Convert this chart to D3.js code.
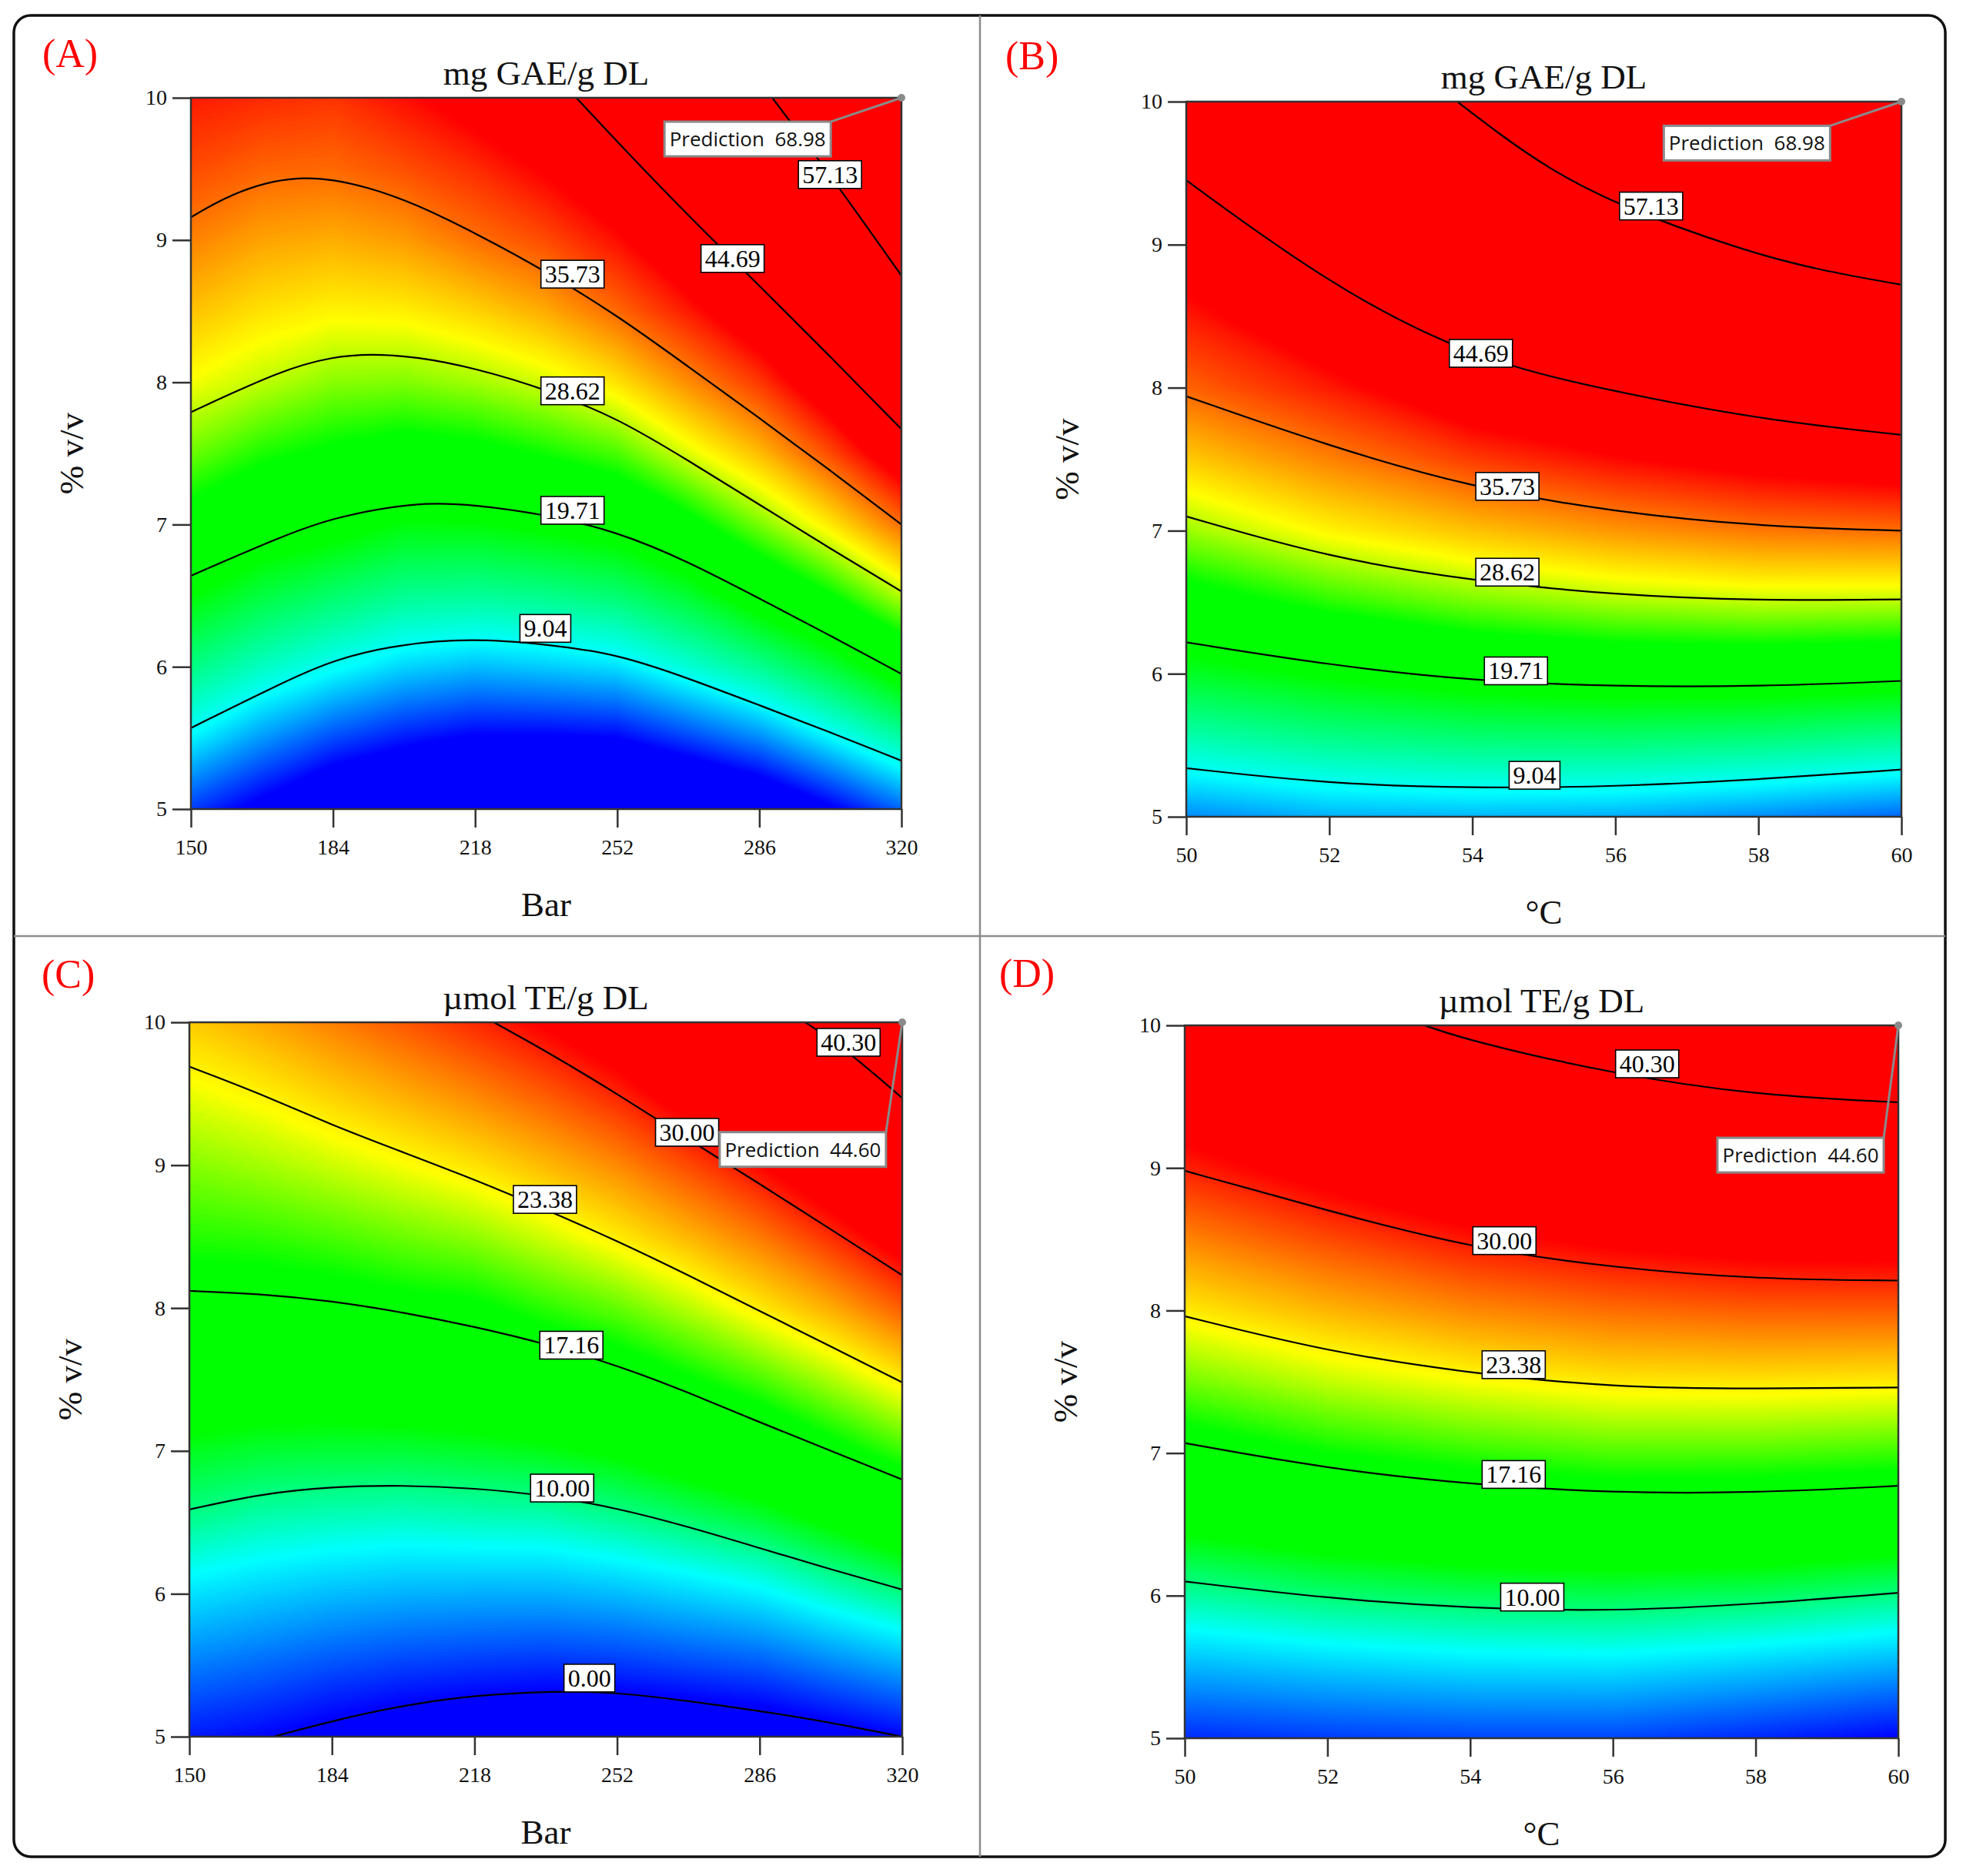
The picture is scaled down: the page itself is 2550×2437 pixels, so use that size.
<!DOCTYPE html>
<html>
<head>
<meta charset="utf-8">
<script src="https://cdn.jsdelivr.net/npm/d3@7"></script>
<style>
  body { margin: 0; background: #fff; }
  svg { display: block; }
  text { font-family: "Liberation Serif", "Times New Roman", serif; }
</style>
</head>
<body>
<svg id="fig" width="2550" height="2437"></svg>
<script>
// ---------- data ----------
const barTicks = [150, 184, 218, 252, 286, 320];
const tempTicks = [50, 52, 54, 56, 58, 60];
const vvTicks = [5, 6, 7, 8, 9, 10];
// grid columns and rows the response values were read at
const barCols = [150, 167, 184, 201, 218, 235, 252, 269, 286, 303, 320];
const tempCols = [50, 52, 54, 56, 58, 60];
const gridRows = [10, 9.5, 9, 8.5, 8, 7.5, 7, 6.5, 6, 5.5, 5];

const gaeBarGrid = [
  [39.0, 38.4, 38.0, 39.5, 41.4, 44.0, 47.0, 51.9, 57.1, 63.0, 69.0],
  [37.1, 36.1, 35.9, 36.9, 38.3, 40.3, 43.3, 47.6, 52.4, 57.6, 64.3],
  [34.9, 33.6, 33.2, 33.9, 35.6, 37.1, 39.5, 43.3, 47.6, 52.7, 59.6],
  [32.4, 31.1, 30.4, 30.6, 31.7, 33.3, 35.9, 39.0, 42.8, 47.8, 54.5],
  [29.8, 28.5, 27.2, 27.0, 27.8, 29.0, 31.1, 34.5, 37.8, 42.7, 48.6],
  [26.5, 24.6, 23.5, 22.7, 23.1, 24.3, 25.7, 29.2, 32.6, 37.1, 42.5],
  [22.6, 20.8, 19.7, 18.1, 18.2, 19.1, 20.2, 23.0, 26.8, 30.8, 35.7],
  [18.4, 16.0, 14.3, 12.8, 12.5, 13.1, 14.1, 16.6, 20.4, 23.8, 28.3],
  [13.4, 10.9, 8.9, 7.1, 6.3, 6.8, 7.5, 10.1, 12.8, 16.3, 20.5],
  [8.2, 5.1, 2.5, 0.8, -0.3, -0.3, 0.0, 2.2, 4.6, 8.3, 12.1],
  [2.0, -1.0, -4.0, -5.5, -7.0, -7.3, -7.5, -6.0, -4.0, -0.5, 3.4]
];
const gaeTempGrid = [
  [47.5, 53.0, 57.5, 62.5, 66.8, 69.0],
  [44.9, 49.8, 54.0, 58.8, 62.3, 64.3],
  [42.0, 46.5, 50.4, 54.5, 57.8, 59.6],
  [39.0, 42.9, 46.8, 49.7, 52.5, 54.4],
  [36.1, 39.0, 42.7, 45.0, 47.1, 48.6],
  [32.0, 34.9, 37.7, 39.7, 41.3, 42.4],
  [27.6, 30.4, 32.4, 34.1, 35.3, 35.7],
  [22.5, 24.9, 26.7, 27.9, 28.5, 28.3],
  [17.0, 18.9, 20.3, 21.0, 21.0, 20.5],
  [11.0, 12.5, 13.3, 13.5, 13.0, 12.0],
  [4.6, 5.9, 6.1, 5.8, 4.7, 3.4]
];
const teBarGrid = [
  [24.6, 25.7, 27.0, 28.3, 29.7, 31.3, 33.1, 35.8, 38.7, 41.5, 44.6],
  [22.6, 23.4, 24.5, 25.6, 26.8, 28.2, 29.9, 32.3, 34.8, 37.4, 40.5],
  [20.6, 21.2, 22.0, 22.9, 23.9, 25.2, 26.7, 28.7, 30.9, 33.5, 36.4],
  [18.7, 18.9, 19.4, 20.1, 20.8, 22.1, 23.6, 25.3, 27.2, 29.6, 32.3],
  [16.6, 16.6, 16.8, 17.3, 17.6, 18.8, 19.9, 21.6, 23.6, 25.6, 28.1],
  [14.3, 14.1, 14.1, 14.4, 14.6, 15.5, 16.3, 17.8, 19.4, 21.4, 23.6],
  [11.9, 11.5, 11.4, 11.4, 11.7, 12.1, 12.8, 14.0, 15.2, 17.2, 19.1],
  [9.5, 8.8, 8.5, 8.3, 8.5, 8.6, 9.3, 10.2, 11.2, 12.8, 14.5],
  [6.5, 5.9, 5.4, 5.1, 5.0, 5.0, 5.4, 6.1, 6.9, 8.4, 9.8],
  [3.6, 3.0, 2.3, 1.8, 1.5, 1.3, 1.5, 2.0, 2.5, 3.7, 4.9],
  [0.7, 0.1, -0.8, -1.5, -2.0, -2.4, -2.5, -2.3, -1.9, -1.0, 0.0]
];
const teTempGrid = [
  [36.0, 39.1, 41.1, 42.9, 44.2, 44.6],
  [33.0, 35.6, 37.5, 39.1, 40.2, 40.5],
  [30.0, 32.1, 34.0, 35.3, 36.2, 36.4],
  [26.8, 28.7, 30.4, 31.5, 32.2, 32.3],
  [23.6, 25.3, 26.7, 27.6, 28.1, 28.1],
  [20.2, 21.8, 22.9, 23.7, 23.8, 23.6],
  [16.6, 18.0, 18.9, 19.5, 19.5, 19.1],
  [13.0, 14.1, 14.9, 15.3, 15.1, 14.5],
  [9.2, 10.2, 10.7, 10.9, 10.6, 9.8],
  [5.2, 5.9, 6.4, 6.5, 5.8, 4.9],
  [1.2, 1.7, 2.0, 2.0, 1.1, 0.0]
];

const gaeLevels = ["9.04", "19.71", "28.62", "35.73", "44.69", "57.13"];
const teLevels = ["0.00", "10.00", "17.16", "23.38", "30.00", "40.30"];

// contour lines, one list of [x, % v/v] per level
const gaeBarLines = [
  [[150, 5.57], [172, 5.89], [184, 6.05], [200, 6.16], [217, 6.20], [235, 6.16], [252, 6.09], [269, 5.92], [286, 5.73], [303, 5.54], [320, 5.34]],
  [[150, 6.64], [172, 6.92], [184, 7.05], [204, 7.16], [218, 7.14], [235, 7.07], [252, 6.95], [269, 6.74], [286, 6.48], [303, 6.22], [320, 5.95]],
  [[150, 7.79], [172, 8.09], [184, 8.18], [193, 8.20], [204, 8.18], [218, 8.10], [235, 7.95], [252, 7.75], [269, 7.45], [286, 7.14], [303, 6.83], [320, 6.53]],
  [[150, 9.16], [161, 9.35], [177, 9.47], [193, 9.37], [204, 9.25], [218, 9.05], [235, 8.78], [252, 8.47], [269, 8.11], [286, 7.75], [303, 7.38], [320, 7.00]],
  [[242.2, 10], [252, 9.69], [269, 9.17], [286, 8.68], [303, 8.18], [320, 7.67]],
  [[289.1, 10], [302.9, 9.46], [320, 8.75]]
];
const gaeTempLines = [
  [[50, 5.34], [52, 5.23], [54, 5.20], [56, 5.21], [58, 5.26], [60, 5.33]],
  [[50, 6.22], [52, 6.06], [54, 5.95], [56, 5.91], [58, 5.91], [60, 5.95]],
  [[50, 7.10], [52, 6.81], [54, 6.65], [56, 6.55], [58, 6.51], [60, 6.52]],
  [[50, 7.94], [52, 7.59], [54, 7.30], [56, 7.13], [58, 7.03], [60, 7.00]],
  [[50, 9.45], [52, 8.72], [54, 8.20], [56, 7.97], [58, 7.78], [60, 7.67]],
  [[53.79, 10], [54.36, 9.78], [55.04, 9.54], [56, 9.28], [57.77, 8.96], [58.86, 8.82], [60, 8.72]]
];
const teBarLines = [
  [[170, 5], [184, 5.11], [201, 5.22], [218, 5.29], [237, 5.32], [252, 5.31], [269, 5.25], [286, 5.18], [303, 5.10], [320, 5.00]],
  [[150, 6.59], [167, 6.70], [184, 6.75], [201, 6.76], [218, 6.74], [235, 6.69], [252, 6.60], [269, 6.47], [286, 6.32], [303, 6.17], [320, 6.03]],
  [[150, 8.12], [167, 8.10], [184, 8.05], [201, 7.97], [218, 7.87], [235, 7.75], [252, 7.60], [269, 7.41], [286, 7.20], [303, 7.00], [320, 6.80]],
  [[150, 9.69], [167, 9.50], [184, 9.28], [201, 9.09], [218, 8.90], [235, 8.69], [252, 8.47], [269, 8.23], [286, 7.98], [303, 7.73], [320, 7.48]],
  [[222.6, 10], [235, 9.80], [252, 9.50], [269, 9.18], [286, 8.87], [303, 8.55], [320, 8.23]],
  [[296.9, 10], [307, 9.80], [320, 9.47]]
];
const teTempLines = [
  [],
  [[50, 6.10], [52, 5.98], [54, 5.91], [56, 5.89], [58, 5.94], [60, 6.02]],
  [[50, 7.07], [52, 6.89], [54, 6.78], [56, 6.72], [58, 6.72], [60, 6.77]],
  [[50, 7.96], [52, 7.71], [54, 7.56], [56, 7.46], [58, 7.45], [60, 7.46]],
  [[50, 8.98], [52, 8.70], [54, 8.44], [56, 8.30], [58, 8.22], [60, 8.21]],
  [[53.36, 10], [54, 9.89], [56, 9.66], [58, 9.51], [60, 9.46]]
];

// where each level's value box sits
const gaeBarLabels = [[234.8, 6.27], [241.3, 7.10], [241.3, 7.94], [241.3, 8.76], [279.6, 8.87], [302.9, 9.46]];
const gaeTempLabels = [[54.87, 5.29], [54.61, 6.02], [54.49, 6.71], [54.49, 7.31], [54.12, 8.24], [56.5, 9.27]];
const teBarLabels = [[245.4, 5.41], [238.9, 6.74], [241.1, 7.74], [234.8, 8.76], [268.7, 9.23], [307.2, 9.86]];
const teTempLabels = [null, [54.87, 5.99], [54.61, 6.85], [54.61, 7.62], [54.48, 8.49], [56.48, 9.73]];

// prediction flags: text, box centre
const gaePrediction = "68.98";
const tePrediction = "44.60";
const predictionBoxes = [[283.2, 9.71], [57.84, 9.71], [296.3, 9.11], [58.63, 9.09]];

// colour ramp stops (response value -> colour)
const gaeColorStops = [0, 8.5, 18.5, 24, 30, 40];
const teColorStops = [0, 7.3, 12.5, 18, 23, 31];
const rampColors = ["#0000ff", "#00ffff", "#00ff00", "#00ff00", "#ffff00", "#ff0000"];

// ---------- drawing ----------
const svg = d3.select("#fig");

// frame round the four panels
svg.append("rect")
  .attr("x", 18).attr("y", 20).attr("width", 2509).attr("height", 2392)
  .attr("rx", 22).attr("fill", "none").attr("stroke", "#111").attr("stroke-width", 3.5);
svg.append("line").attr("x1", 1273).attr("x2", 1273).attr("y1", 20).attr("y2", 2412)
  .attr("stroke", "#8c8c8c").attr("stroke-width", 2.5);
svg.append("line").attr("x1", 18).attr("x2", 2527).attr("y1", 1216).attr("y2", 1216)
  .attr("stroke", "#8c8c8c").attr("stroke-width", 2.5);

const panels = [
  { id: "A", letter: "(A)", lx: 55, ly: 87, left: 248, right: 1171, top: 127, bottom: 1051,
    title: "mg GAE/g DL", xTitle: "Bar", xTicks: barTicks, cols: barCols, grid: gaeBarGrid, stops: gaeColorStops,
    levels: gaeLevels, lines: gaeBarLines, labels: gaeBarLabels, pred: gaePrediction, box: predictionBoxes[0] },
  { id: "B", letter: "(B)", lx: 1306, ly: 90, left: 1541, right: 2470, top: 132, bottom: 1061,
    title: "mg GAE/g DL", xTitle: "°C", xTicks: tempTicks, cols: tempCols, grid: gaeTempGrid, stops: gaeColorStops,
    levels: gaeLevels, lines: gaeTempLines, labels: gaeTempLabels, pred: gaePrediction, box: predictionBoxes[1] },
  { id: "C", letter: "(C)", lx: 54, ly: 1283, left: 246, right: 1172, top: 1328, bottom: 2256,
    title: "µmol TE/g DL", xTitle: "Bar", xTicks: barTicks, cols: barCols, grid: teBarGrid, stops: teColorStops,
    levels: teLevels, lines: teBarLines, labels: teBarLabels, pred: tePrediction, box: predictionBoxes[2] },
  { id: "D", letter: "(D)", lx: 1298, ly: 1282, left: 1539, right: 2466, top: 1332, bottom: 2258,
    title: "µmol TE/g DL", xTitle: "°C", xTicks: tempTicks, cols: tempCols, grid: teTempGrid, stops: teColorStops,
    levels: teLevels, lines: teTempLines, labels: teTempLabels, pred: tePrediction, box: predictionBoxes[3] }
];

function drawPanel(p) {
  const g = svg.append("g").attr("class", "panel-" + p.id);
  const xMin = p.xTicks[0], xMax = p.xTicks[p.xTicks.length - 1];
  const x = d3.scaleLinear().domain([xMin, xMax]).range([p.left, p.right]);
  const y = d3.scaleLinear().domain([5, 10]).range([p.bottom, p.top]);
  const color = d3.scaleLinear().domain(p.stops).range(rampColors).clamp(true);

  const clipId = "clip-" + p.id;
  g.append("clipPath").attr("id", clipId).append("rect")
    .attr("x", p.left).attr("y", p.top)
    .attr("width", p.right - p.left).attr("height", p.bottom - p.top);

  // colour field: filled bands from d3.contours on the value grid
  const nx = p.cols.length, ny = gridRows.length;
  const xStep = p.cols[1] - p.cols[0];
  const yStep = gridRows[1] - gridRows[0];
  const toScreen = d3.geoTransform({
    point: function(gx, gy) {
      this.stream.point(x(p.cols[0] + (gx - 0.5) * xStep), y(gridRows[0] + (gy - 0.5) * yStep));
    }
  });
  const path = d3.geoPath(toScreen);
  const step = 0.15;
  const thresholds = d3.range(-10, 0, 2)
    .concat(d3.range(0, 42, step))
    .concat(d3.range(42, 72, 3));
  const bands = d3.contours().size([nx, ny]).thresholds(thresholds)(p.grid.flat());

  const field = g.append("g").attr("clip-path", `url(#${clipId})`);
  field.append("rect")
    .attr("x", p.left).attr("y", p.top)
    .attr("width", p.right - p.left).attr("height", p.bottom - p.top)
    .attr("fill", color(-10));
  field.selectAll("path.band")
    .data(bands)
    .enter().append("path")
    .attr("class", "band")
    .attr("d", path)
    .attr("fill", d => color(d.value + step / 2));

  // labelled contour lines
  const line = d3.line()
    .x(d => x(d[0]))
    .y(d => y(d[1]))
    .curve(d3.curveBasis);
  field.selectAll("path.iso")
    .data(p.lines.filter(l => l.length))
    .enter().append("path")
    .attr("class", "iso")
    .attr("d", line)
    .attr("fill", "none")
    .attr("stroke", "#000")
    .attr("stroke-width", 2.2);

  // plot frame
  g.append("rect")
    .attr("x", p.left).attr("y", p.top)
    .attr("width", p.right - p.left).attr("height", p.bottom - p.top)
    .attr("fill", "none").attr("stroke", "#333").attr("stroke-width", 2.5);

  // axes
  const xAxis = g.append("g")
    .attr("transform", `translate(0,${p.bottom})`)
    .call(d3.axisBottom(x).tickValues(p.xTicks).tickSize(24).tickPadding(15).tickFormat(d3.format("d")));
  const yAxis = g.append("g")
    .attr("transform", `translate(${p.left},0)`)
    .call(d3.axisLeft(y).tickValues(vvTicks).tickSize(24).tickPadding(7).tickFormat(d3.format("d")));
  [xAxis, yAxis].forEach(a => {
    a.attr("font-family", null).attr("font-size", null);
    a.select(".domain").remove();
    a.selectAll(".tick line").attr("stroke", "#333").attr("stroke-width", 2.5);
    a.selectAll(".tick text").attr("font-size", 28).attr("fill", "#111");
  });

  // value boxes on the contour lines
  p.labels.forEach((pos, i) => {
    if (!pos) return;
    const lab = g.append("g").attr("transform", `translate(${x(pos[0])},${y(pos[1])})`);
    const t = lab.append("text")
      .attr("text-anchor", "middle").attr("dy", "0.34em")
      .attr("font-size", 32).attr("fill", "#000")
      .text(p.levels[i]);
    const w = t.node().getComputedTextLength();
    lab.insert("rect", "text")
      .attr("x", -w / 2 - 5).attr("y", -18)
      .attr("width", w + 10).attr("height", 36)
      .attr("fill", "#fff").attr("stroke", "#000").attr("stroke-width", 1.6);
  });

  // prediction flag at the top right corner
  const bw = 216, bh = 45;
  const bx = x(p.box[0]) - bw / 2, by = y(p.box[1]) - bh / 2;
  g.append("line")
    .attr("x1", bx + bw).attr("y1", by)
    .attr("x2", x(xMax)).attr("y2", y(10))
    .attr("stroke", "#8a8a8a").attr("stroke-width", 3);
  g.append("circle").attr("cx", x(xMax)).attr("cy", y(10)).attr("r", 5).attr("fill", "#8a8a8a");
  g.append("rect")
    .attr("x", bx).attr("y", by).attr("width", bw).attr("height", bh)
    .attr("fill", "#fff").attr("stroke", "#8a8a8a").attr("stroke-width", 3);
  g.append("text")
    .attr("x", bx + bw / 2).attr("y", by + bh / 2).attr("dy", "0.36em")
    .attr("text-anchor", "middle")
    .style("font-family", "'Open Sans', 'Noto Sans', sans-serif")
    .style("white-space", "pre")
    .attr("font-size", 26).attr("fill", "#111")
    .text("Prediction  " + p.pred);

  // titles
  g.append("text")
    .attr("x", (p.left + p.right) / 2).attr("y", p.top - 17)
    .attr("text-anchor", "middle").attr("font-size", 45).attr("fill", "#111")
    .text(p.title);
  g.append("text")
    .attr("x", (p.left + p.right) / 2).attr("y", p.bottom + 139)
    .attr("text-anchor", "middle").attr("font-size", 45).attr("fill", "#111")
    .text(p.xTitle);
  g.append("text")
    .attr("transform", `translate(${p.left - 140},${(p.top + p.bottom) / 2}) rotate(-90)`)
    .attr("text-anchor", "middle").attr("font-size", 45).attr("fill", "#111")
    .text("% v/v");
  g.append("text")
    .attr("x", p.lx).attr("y", p.ly)
    .attr("font-size", 52).attr("fill", "#f00")
    .text(p.letter);
}

panels.forEach(drawPanel);
</script>
</body>
</html>
